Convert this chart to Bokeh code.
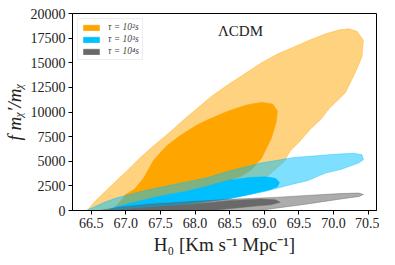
from bokeh.plotting import figure
from bokeh.models import Range1d, FixedTicker, PrintfTickFormatter, Legend, LegendItem, Label
from bokeh.embed import file_html
from bokeh.resources import INLINE

# ---- data (contour outlines) ----
ORANGE_OUTER_X = [66.44, 66.57, 66.71, 66.88, 67.03, 67.20, 67.36, 67.64, 67.85, 68.02, 68.24, 68.48,
                  68.72, 68.95, 69.19, 69.43, 69.65, 69.89, 70.08, 70.22, 70.34, 70.43, 70.41, 70.31,
                  70.17, 70.03, 69.93, 69.82, 69.67, 69.51, 69.37, 69.29, 69.02, 68.74, 68.31, 67.89, 67.47]
ORANGE_OUTER_Y = [0, 1030, 1990, 3120, 4120, 5310, 6310, 7980, 9300, 10300, 11600, 12790,
                  13890, 14960, 15880, 16610, 17280, 17950, 18330, 18440, 18180, 17280, 15610, 13960,
                  11960, 11000, 10300, 9300, 8290, 7010, 6010, 5010, 3320, 2130, 1130, 530, 0]

ORANGE_INNER_X = [66.79, 66.91, 67.00, 67.12, 67.26, 67.40, 67.58, 67.78, 68.03, 68.24, 68.48, 68.74,
                  68.96, 69.12, 69.19, 69.17, 69.10, 68.96, 68.81, 68.67, 68.38, 68.03, 67.61, 67.19, 66.98]
ORANGE_INNER_Y = [0, 830, 1650, 2120, 3320, 5110, 6510, 7600, 8700, 9400, 10100, 10700,
                  11000, 10800, 10100, 8900, 7300, 5300, 4100, 3500, 2700, 1800, 1000, 330, 0]

BLUE_OUTER_X = [66.43, 66.48, 66.69, 66.86, 67.29, 67.75, 68.17, 68.48, 68.95, 69.43, 70.03, 70.29,
                70.41, 70.43, 70.36, 70.10, 69.89, 69.62, 69.43, 69.00, 68.48, 68.03, 67.47, 67.19]
BLUE_OUTER_Y = [0, 160, 830, 1260, 2050, 2720, 3320, 3990, 4820, 5380, 5710, 5810,
                5660, 5140, 4820, 4150, 3820, 3020, 2720, 1920, 1230, 730, 230, 0]

BLUE_INNER_X = [66.74, 66.84, 67.05, 67.47, 67.89, 68.17, 68.48, 68.81, 69.02, 69.16, 69.22, 69.19,
                69.09, 68.76, 68.48, 68.03, 67.61, 67.26]
BLUE_INNER_Y = [0, 330, 730, 1430, 1990, 2470, 3070, 3370, 3420, 3270, 2870, 2420,
                2120, 1580, 1180, 780, 430, 0]

GRAY_OUTER_X = [66.62, 66.91, 67.33, 67.89, 68.48, 69.16, 69.62, 70.10, 70.36, 70.43, 70.37, 70.10,
                69.62, 69.16, 68.91]
GRAY_OUTER_Y = [0, 330, 630, 880, 1130, 1330, 1530, 1720, 1770, 1630, 1430, 1160,
                660, 230, 0]

GRAY_INNER_X = [66.79, 67.07, 67.47, 67.89, 68.48, 68.95, 69.16, 69.23, 69.09, 68.95, 68.48, 68.24]
GRAY_INNER_Y = [0, 160, 380, 580, 1000, 1160, 1080, 830, 580, 500, 180, 0]

X_TICKS = [66.5, 67.0, 67.5, 68.0, 68.5, 69.0, 69.5, 70.0, 70.5]
Y_TICKS = [0, 2500, 5000, 7500, 10000, 12500, 15000, 17500, 20000]
LABELS = ["τ = 10²s", "τ = 10³s", "τ = 10⁴s"]
MODEL = "ΛCDM"

FONT = "Liberation Serif"

p = figure(width=379, height=257, output_backend="svg", toolbar_location=None,
           x_range=Range1d(66.23, 70.62), y_range=Range1d(0, 20000),
           min_border_left=64, min_border_right=3, min_border_top=13, min_border_bottom=43)
p.background_fill_color = "white"
p.border_fill_color = "white"
p.outline_line_color = "black"
p.outline_line_width = 1
p.xgrid.visible = False
p.ygrid.visible = False

orange, blue, gray_out, gray_in = "#FFA500", "#00BFFF", "#5a5a5a", "#696969"

p.patch(ORANGE_OUTER_X, ORANGE_OUTER_Y, fill_color=orange, fill_alpha=0.5,
        line_color=orange, line_alpha=0.5, line_width=0.8)
r_or = p.patch(ORANGE_INNER_X, ORANGE_INNER_Y, fill_color=orange, fill_alpha=1.0,
               line_color=orange, line_width=0.5)
p.patch(BLUE_OUTER_X, BLUE_OUTER_Y, fill_color=blue, fill_alpha=0.5,
        line_color=blue, line_alpha=0.5, line_width=0.8)
r_bl = p.patch(BLUE_INNER_X, BLUE_INNER_Y, fill_color=blue, fill_alpha=1.0,
               line_color=blue, line_width=0.5)
p.patch(GRAY_OUTER_X, GRAY_OUTER_Y, fill_color=gray_out, fill_alpha=0.5,
        line_color=gray_out, line_alpha=0.5, line_width=0.8)
r_gr = p.patch(GRAY_INNER_X, GRAY_INNER_Y, fill_color=gray_in, fill_alpha=1.0,
               line_color=gray_in, line_width=0.5)

# axes
for ax in (p.xaxis[0], p.yaxis[0]):
    ax.major_label_text_font = FONT
    ax.major_label_text_font_size = "14px"
    ax.major_label_text_color = "#222222"
    ax.axis_label_text_font = FONT
    ax.axis_label_text_font_style = "italic"
    ax.axis_label_text_font_size = "19px"
    ax.axis_label_text_color = "#222222"
    ax.major_tick_out = 4
    ax.major_tick_in = 0
    ax.minor_tick_out = 0
    ax.minor_tick_in = 0
    ax.axis_line_color = "black"
    ax.major_tick_line_color = "black"
    ax.major_label_standoff = 3
    ax.axis_label_standoff = 3

p.xaxis.ticker = FixedTicker(ticks=X_TICKS)
p.yaxis.ticker = FixedTicker(ticks=Y_TICKS)
p.xaxis.formatter = PrintfTickFormatter(format="%.1f")
p.yaxis.formatter = PrintfTickFormatter(format="%d")
p.xaxis.axis_label = "H₀ [Km s⁻¹ Mpc⁻¹]"
p.xaxis.axis_label_text_font_style = "normal"
p.yaxis.axis_label = "f mᵪ′/mᵪ"

legend = Legend(items=[LegendItem(label=LABELS[0], renderers=[r_or]),
                       LegendItem(label=LABELS[1], renderers=[r_bl]),
                       LegendItem(label=LABELS[2], renderers=[r_gr])],
                location="top_left")
legend.label_text_font = FONT
legend.label_text_font_style = "italic"
legend.label_text_font_size = "9.5px"
legend.glyph_width = 20
legend.glyph_height = 7
legend.label_height = 7
legend.label_standoff = 7
legend.spacing = 2
legend.padding = 3
legend.margin = 5
legend.border_line_color = "#dddddd"
legend.border_line_width = 1
legend.background_fill_alpha = 0.9
p.add_layout(legend)

p.add_layout(Label(x=168, y=180, x_units="screen", y_units="screen", text=MODEL,
                   text_font=FONT, text_font_size="15px", text_align="center",
                   text_baseline="alphabetic", text_color="#222222"))

open("out.html", "w").write(file_html(p, INLINE))
